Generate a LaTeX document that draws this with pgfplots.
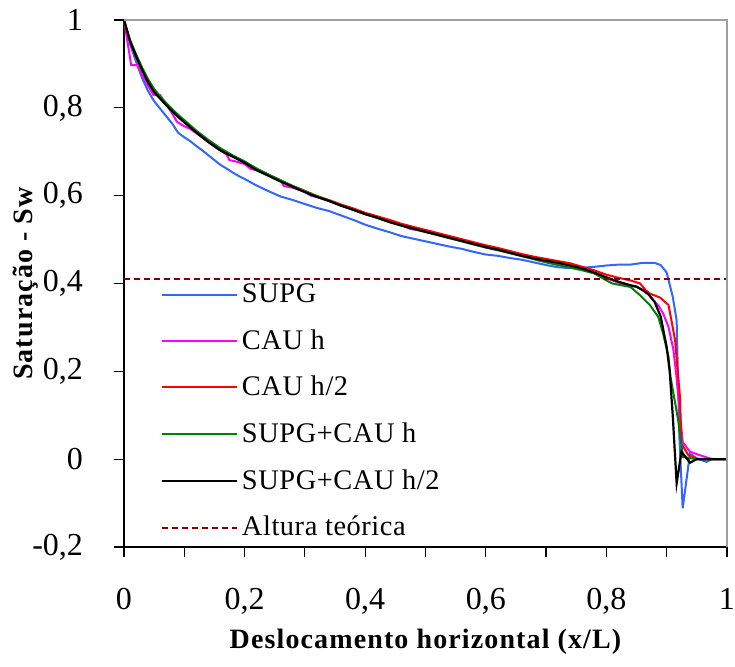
\documentclass[border=0pt]{standalone}
\usepackage{fontspec}
\setmainfont{Liberation Serif}
\newfontfamily\legfont[LetterSpace=2]{Liberation Serif}
\newfontfamily\xlabfont[LetterSpace=4]{Liberation Serif}
\newfontfamily\ylabfont[LetterSpace=4]{Liberation Serif}
\usepackage{pgfplots}
\pgfplotsset{compat=1.18}
\definecolor{cblue}{RGB}{51,102,255}
\definecolor{cmag}{RGB}{255,0,255}
\definecolor{cred}{RGB}{255,0,0}
\definecolor{cgreen}{RGB}{0,128,0}
\definecolor{cdash}{RGB}{128,0,0}
\definecolor{cborder}{RGB}{160,160,160}
\begin{document}
\begin{tikzpicture}
\useasboundingbox (-62pt,-59.5pt) rectangle (305.5pt,273.5pt);
\begin{axis}[
  at={(0,0)}, anchor=south west,
  scale only axis, width=301.5pt, height=263.5pt,
  xmin=0, xmax=1, ymin=-0.2, ymax=1,
  axis x line*=bottom, axis y line*=left,
  axis line style={line width=0.8pt, -},
  tick align=outside, major tick length=5pt, minor tick length=5pt,
  tick style={black, line width=0.6pt},
  xtick={0,0.2,0.4,0.6,0.8,1},
  minor xtick={0.1,0.3,0.5,0.7,0.9},
  ytick={-0.2,0,0.2,0.4,0.6,0.8,1},
  /pgf/number format/use comma,
  /pgf/number format/assume math mode=true,
  tick label style={font=\fontsize{16}{19}\selectfont},
  xticklabel style={yshift=-12pt},
  yticklabel style={xshift=-12pt},
  xlabel={\xlabfont\bfseries\fontsize{14}{16}\selectfont Deslocamento horizontal (x/L)},
  xlabel style={at={(axis description cs:0.5,-0.18)}, anchor=center},
  ylabel={\ylabfont\bfseries\fontsize{14}{16}\selectfont Saturação - Sw},
  ylabel style={at={(axis description cs:-0.163,0.5)}, anchor=center},
  clip=false,
  legend cell align=left,
  legend image code/.code={\draw[#1] (0pt,0pt) -- (37.5pt,0pt);},
  legend style={at={(axis cs:0.061,0.109)}, anchor=west, draw=none, fill=none,
    inner sep=0pt, outer sep=0pt, row sep=8pt, column sep=0pt,
    font=\legfont\fontsize{14.2}{17}\selectfont},
]
\addplot[cblue, line width=1pt] coordinates {
(0,1) (0.01,0.945) (0.02,0.905) (0.03,0.868) (0.04,0.838) (0.05,0.815) (0.06,0.798)
(0.07,0.781) (0.08,0.764) (0.09,0.743) (0.10,0.733) (0.11,0.724) (0.12,0.713)
(0.13,0.703) (0.14,0.692) (0.15,0.681) (0.16,0.670) (0.17,0.662) (0.18,0.653)
(0.19,0.645) (0.20,0.638) (0.22,0.623) (0.24,0.610) (0.26,0.598) (0.28,0.590)
(0.30,0.581) (0.32,0.572) (0.34,0.565) (0.36,0.555) (0.38,0.545) (0.40,0.534)
(0.42,0.525) (0.44,0.517) (0.46,0.508) (0.48,0.502) (0.50,0.496) (0.52,0.490)
(0.54,0.484) (0.56,0.479) (0.58,0.472) (0.60,0.466) (0.62,0.463) (0.64,0.458)
(0.66,0.454) (0.68,0.448) (0.70,0.442) (0.72,0.437) (0.74,0.435) (0.76,0.436)
(0.78,0.438) (0.80,0.441) (0.82,0.443) (0.84,0.443) (0.86,0.447) (0.88,0.447)
(0.89,0.442) (0.90,0.425) (0.91,0.37) (0.9165,0.316) (0.921,0.05) (0.9265,-0.112)
(0.9386,0.013) (0.95,0.0015) (0.966,-0.006) (0.975,0) (1,0)
};
\addlegendentry{SUPG}
\addplot[cmag, line width=1pt] coordinates {
(0,1) (0.012,0.897) (0.022,0.897) (0.03,0.875) (0.04,0.85) (0.049,0.829) (0.06,0.829)
(0.07,0.808) (0.08,0.787) (0.088,0.768) (0.10,0.758) (0.11,0.752) (0.12,0.742)
(0.13,0.732) (0.14,0.722) (0.15,0.712) (0.16,0.703) (0.17,0.694) (0.175,0.681)
(0.185,0.678) (0.20,0.672) (0.21,0.661) (0.225,0.656) (0.24,0.647) (0.26,0.635)
(0.265,0.622) (0.28,0.618) (0.30,0.609) (0.31,0.600) (0.32,0.597) (0.34,0.588)
(0.36,0.578) (0.38,0.568) (0.40,0.558) (0.42,0.550) (0.44,0.541) (0.46,0.533)
(0.475,0.524) (0.49,0.521) (0.50,0.518) (0.52,0.511) (0.54,0.504) (0.56,0.497)
(0.58,0.489) (0.60,0.482) (0.62,0.476) (0.64,0.470) (0.66,0.464) (0.68,0.458)
(0.70,0.452) (0.72,0.447) (0.74,0.440) (0.76,0.432) (0.78,0.423) (0.80,0.412)
(0.82,0.402) (0.834,0.396) (0.85,0.392) (0.861,0.385) (0.87,0.376) (0.878,0.362)
(0.886,0.35) (0.894,0.332) (0.903,0.301) (0.911,0.25) (0.916,0.19) (0.922,0.104)
(0.9265,0.039) (0.9386,0.017) (0.955,0.009) (0.972,0.0015) (0.98,0) (1,0)
};
\addlegendentry{CAU h}
\addplot[cred, line width=1pt] coordinates {
(0,1) (0.01,0.95) (0.02,0.916) (0.03,0.886) (0.04,0.86) (0.05,0.838) (0.06,0.822)
(0.07,0.808) (0.08,0.794) (0.09,0.78) (0.10,0.768) (0.12,0.745) (0.14,0.724)
(0.16,0.705) (0.18,0.69) (0.20,0.676) (0.22,0.66) (0.24,0.647) (0.26,0.634)
(0.28,0.622) (0.30,0.611) (0.32,0.599) (0.34,0.59) (0.36,0.58) (0.38,0.571)
(0.40,0.561) (0.42,0.553) (0.44,0.545) (0.46,0.536) (0.48,0.529) (0.50,0.522)
(0.52,0.515) (0.54,0.508) (0.56,0.501) (0.58,0.494) (0.60,0.487) (0.62,0.481)
(0.64,0.474) (0.66,0.467) (0.68,0.461) (0.70,0.456) (0.72,0.451) (0.74,0.446)
(0.76,0.438) (0.78,0.43) (0.80,0.42) (0.82,0.413) (0.84,0.407) (0.856,0.40)
(0.865,0.385) (0.872,0.377) (0.889,0.368) (0.903,0.351) (0.908,0.315) (0.914,0.27)
(0.917,0.22) (0.922,0.142) (0.9245,0.035) (0.936,0.009) (0.95,0.0015) (0.96,0) (1,0)
};
\addlegendentry{CAU h/2}
\addplot[cgreen, line width=1pt] coordinates {
(0,1) (0.01,0.955) (0.02,0.922) (0.03,0.892) (0.04,0.865) (0.05,0.843) (0.06,0.826)
(0.07,0.811) (0.08,0.797) (0.09,0.784) (0.10,0.772) (0.12,0.748) (0.14,0.727)
(0.16,0.708) (0.18,0.692) (0.20,0.678) (0.22,0.662) (0.24,0.648) (0.26,0.635)
(0.28,0.622) (0.30,0.61) (0.32,0.599) (0.34,0.589) (0.36,0.578) (0.38,0.568)
(0.40,0.558) (0.42,0.549) (0.44,0.54) (0.46,0.532) (0.48,0.524) (0.50,0.517)
(0.52,0.51) (0.54,0.503) (0.56,0.496) (0.58,0.489) (0.60,0.482) (0.62,0.476)
(0.64,0.469) (0.66,0.462) (0.68,0.455) (0.70,0.448) (0.72,0.442) (0.74,0.436)
(0.76,0.430) (0.78,0.423) (0.80,0.407) (0.81,0.40) (0.84,0.392) (0.856,0.373)
(0.872,0.351) (0.886,0.324) (0.894,0.286) (0.903,0.233) (0.906,0.19) (0.919,0.089)
(0.9245,0.032) (0.927,0.005) (0.94,0.002) (0.95,0) (1,0)
};
\addlegendentry{SUPG+CAU h}
\addplot[black, line width=1.1pt] coordinates {
(0,1) (0.01,0.952) (0.02,0.918) (0.03,0.886) (0.04,0.858) (0.05,0.836) (0.06,0.821)
(0.07,0.806) (0.08,0.792) (0.09,0.779) (0.10,0.767) (0.12,0.744) (0.14,0.722)
(0.16,0.703) (0.18,0.689) (0.20,0.675) (0.22,0.658) (0.24,0.645) (0.26,0.632)
(0.28,0.620) (0.30,0.608) (0.32,0.597) (0.34,0.588) (0.36,0.577) (0.38,0.568)
(0.40,0.558) (0.42,0.550) (0.44,0.540) (0.46,0.532) (0.48,0.525) (0.50,0.518)
(0.52,0.511) (0.54,0.504) (0.56,0.497) (0.58,0.490) (0.60,0.483) (0.62,0.477)
(0.64,0.470) (0.66,0.463) (0.68,0.457) (0.70,0.452) (0.72,0.447) (0.74,0.441)
(0.76,0.434) (0.78,0.425) (0.80,0.414) (0.82,0.404) (0.84,0.396) (0.85,0.393)
(0.86,0.385) (0.87,0.375) (0.88,0.358) (0.89,0.325) (0.90,0.255) (0.905,0.2)
(0.91,0.10) (0.9165,-0.055) (0.9245,0.017) (0.9386,-0.008) (0.95,0) (1,0)
};
\addlegendentry{SUPG+CAU h/2}
\addplot[cdash, line width=1pt, dash pattern=on 3pt off 2pt] coordinates {(0,0.41) (1,0.41)};
\addlegendentry{Altura teórica}
\draw[cborder, line width=1pt] (rel axis cs:0,1) -- (rel axis cs:1,1) -- (rel axis cs:1,0);
\end{axis}
\end{tikzpicture}
\end{document}
